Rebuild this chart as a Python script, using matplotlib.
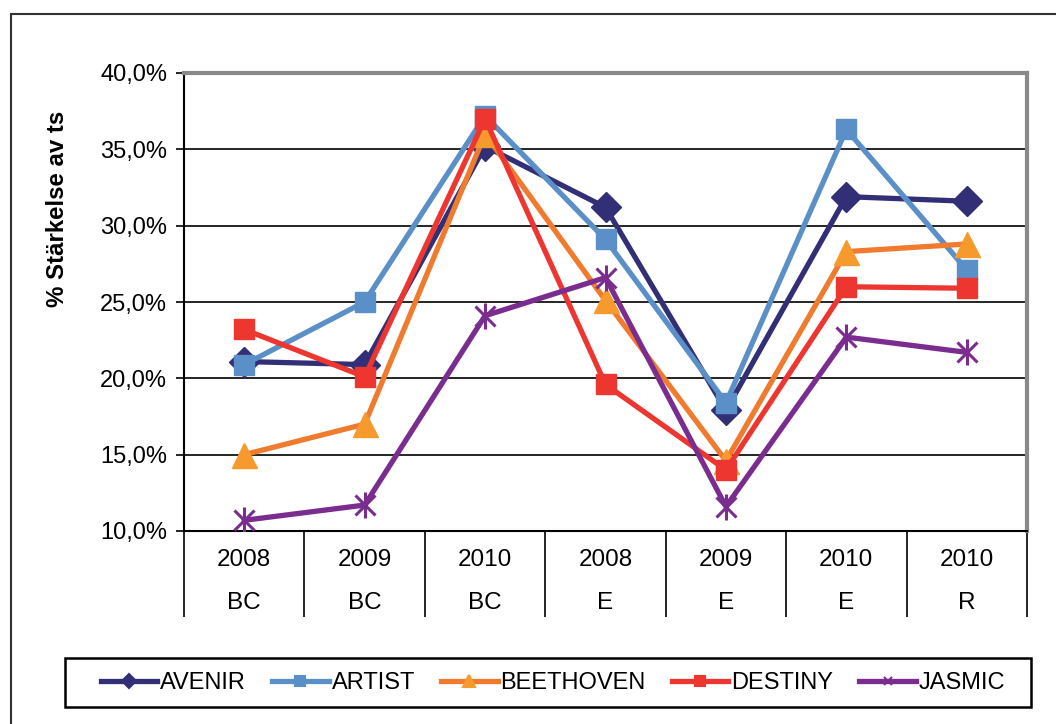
import matplotlib
matplotlib.use("Agg")
import matplotlib.pyplot as plt
from matplotlib.lines import Line2D
from matplotlib.patches import Rectangle
import matplotlib.transforms as mtransforms

plt.rcParams['font.family'] = ['Liberation Sans', 'DejaVu Sans']

years = ["2008", "2009", "2010", "2008", "2009", "2010", "2010"]
groups = ["BC", "BC", "BC", "E", "E", "E", "R"]

avenir = [21.1, 20.9, 35.2, 31.2, 17.9, 31.9, 31.6]
artist = [20.9, 25.0, 37.2, 29.1, 18.4, 36.3, 27.1]
beethoven = [15.0, 17.0, 36.0, 25.1, 14.6, 28.3, 28.8]
destiny = [23.2, 20.1, 37.0, 19.6, 14.0, 26.0, 25.9]
jasmic = [10.7, 11.7, 24.1, 26.6, 11.6, 22.7, 21.7]

yticks = [10, 15, 20, 25, 30, 35, 40]

series = [
    ("AVENIR", avenir, "#332f77", "#332f77", "D", 15),
    ("ARTIST", artist, "#5a8fc8", "#5a8fc8", "s", 14.5),
    ("BEETHOVEN", beethoven, "#f07a2e", "#f79a2e", "^", 18),
    ("DESTINY", destiny, "#ee3630", "#ee3630", "s", 14.5),
    ("JASMIC", jasmic, "#7b2c8f", "#7b2c8f", "x", 14),
]

fig = plt.figure(figsize=(10.56, 7.24), dpi=100)
W, H = 1056, 724
ax = fig.add_axes([184 / W, 1 - 531 / H, (1027 - 184) / W, (531 - 73) / H])

x = list(range(len(years)))
for name, vals, lc, mc, mk, ms in series:
    kw = dict(color=lc, lw=3.8, marker=mk, markersize=ms,
              markerfacecolor=mc, markeredgecolor=mc, label=name,
              solid_joinstyle='round', zorder=3)
    if mk == "x":
        kw["markeredgewidth"] = 2.2
        ax.plot(x, vals, **kw)
        ax.plot(x, vals, lw=0, marker="|", markersize=ms * 1.3,
                markeredgewidth=2.2, color=mc, zorder=3)
    else:
        ax.plot(x, vals, **kw)

ax.set_xlim(-0.5, len(years) - 0.5)
ax.set_ylim(10, 40)
ax.set_yticks(yticks)
ax.set_yticklabels([f"{v:.1f}%".replace(".", ",") for v in yticks], fontsize=17)
ax.yaxis.grid(True, color="black", lw=1.2)
ax.set_axisbelow(True)
ax.tick_params(axis='y', length=6, width=1.2, pad=6, direction='out')

ax.set_xticks([i - 0.5 for i in range(len(years) + 1)])
ax.set_xticklabels([])
ax.tick_params(axis='x', length=62, width=1.2, direction='out')

for side in ["top", "right"]:
    ax.spines[side].set_color("#8a8a8a")
    ax.spines[side].set_linewidth(3)
for side in ["left", "bottom"]:
    ax.spines[side].set_color("black")
    ax.spines[side].set_linewidth(1.5)

trans = mtransforms.blended_transform_factory(ax.transData, fig.transFigure)
for i in x:
    ax.text(i, 1 - 560 / H, years[i], transform=trans, ha="center", va="center", fontsize=17.5)
    ax.text(i, 1 - 603 / H, groups[i], transform=trans, ha="center", va="center", fontsize=17.5)

fig.text(58 / W, 1 - 209 / H, "% Stärkelse av ts", rotation=90, ha="center", va="center",
         fontsize=17.3, fontweight="bold")

# figure border (partially outside image)
fig.add_artist(Line2D([11 / W, 11 / W], [0, 1 - 14 / H], transform=fig.transFigure, color="#333333", lw=1.5))
fig.add_artist(Line2D([11 / W, 1], [1 - 14 / H, 1 - 14 / H], transform=fig.transFigure, color="#333333", lw=1.5))

handles = []
for name, vals, lc, mc, mk, ms in series:
    h = Line2D([], [], color=lc, lw=3.8, marker=mk, markersize=ms * 0.45,
               markerfacecolor=mc, markeredgecolor=mc, markeredgewidth=1.5)
    handles.append(h)
leg = fig.legend(handles, [s[0] for s in series], ncol=5,
                 loc="center", bbox_to_anchor=(553 / W, 1 - 683 / H),
                 fontsize=17, frameon=False,
                 handlelength=2.4, handletextpad=0.12, columnspacing=1.1,
                 borderpad=0.2)
fig.add_artist(Rectangle((65 / W, 1 - 707 / H), (1031 - 65) / W, (707 - 658) / H,
                         transform=fig.transFigure, fill=False, edgecolor="black", lw=1.8))

fig.savefig("out.png", dpi=100)
